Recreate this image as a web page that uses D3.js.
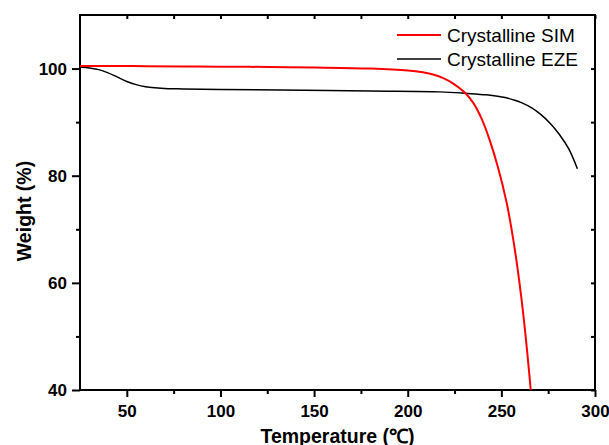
<!DOCTYPE html>
<html>
<head>
<meta charset="utf-8">
<script src="https://cdn.jsdelivr.net/npm/d3@7"></script>
<style>
  body { margin: 0; background: #fff; }
  text { font-family: "Liberation Sans", Arial, sans-serif; }
</style>
</head>
<body>
<div id="chart"></div>
<script>
// Crystalline SIM (red)
const tempSIM = [25, 40, 60, 80, 100, 126, 150, 180, 200, 208, 214, 219, 224.3, 230.6, 235, 239.5, 243.9, 248.4, 252.8, 255.3, 257.8, 260.5, 263, 265.7];
const weightSIM = [100.5, 100.5, 100.45, 100.4, 100.35, 100.3, 100.2, 100.0, 99.65, 99.3, 98.85, 98.2, 97.2, 95.5, 93.6, 90.6, 86.5, 81.3, 75.0, 70.3, 64.8, 57.7, 49.9, 40];

// Crystalline EZE (black)
const tempEZE = [25, 30, 35, 40, 45, 50, 55, 60, 65, 72, 80, 100, 132, 180, 217, 232, 242, 248, 252, 256, 261, 266, 271, 276, 281, 286, 290.6];
const weightEZE = [100.3, 100.1, 99.8, 99.2, 98.4, 97.6, 97.0, 96.6, 96.4, 96.25, 96.2, 96.1, 96.0, 95.8, 95.65, 95.35, 95.1, 94.85, 94.6, 94.2, 93.6, 92.7, 91.45, 89.8, 87.7, 85.0, 81.3];

const xMajor = [50, 100, 150, 200, 250, 300];
const xMinor = [75, 125, 175, 225, 275];
const yMajor = [40, 60, 80, 100];
const yMinor = [50, 70, 90];

const seriesNames = ['Crystalline SIM', 'Crystalline EZE'];
const seriesColors = ['#ff0000', '#000000'];

const width = 609;
const height = 445;
const margin = { top: 15, right: 14, bottom: 55, left: 80 };

const svg = d3.select('#chart')
  .append('svg')
  .attr('width', width)
  .attr('height', height);

const x = d3.scaleLinear()
  .domain([25, 300])
  .range([margin.left, width - margin.right]);

const y = d3.scaleLinear()
  .domain([40, 110])
  .range([height - margin.bottom, margin.top]);

// clip so the red curve stops at the frame
svg.append('clipPath')
  .attr('id', 'plot-clip')
  .append('rect')
  .attr('x', x(25))
  .attr('y', y(110))
  .attr('width', x(300) - x(25))
  .attr('height', y(40) - y(110));

// axes
function styleAxis(g, hideText) {
  g.select('.domain').remove();
  g.selectAll('.tick line').attr('stroke', '#000').attr('stroke-width', 2);
  g.selectAll('.tick text')
    .attr('font-size', 17)
    .attr('font-weight', 'bold')
    .attr('fill', '#000');
  if (hideText) g.selectAll('.tick text').remove();
}

svg.append('g')
  .attr('transform', `translate(0, ${y(40)})`)
  .call(d3.axisBottom(x).tickValues(xMajor).tickSize(7).tickPadding(8).tickSizeOuter(0))
  .call(g => styleAxis(g, false));

svg.append('g')
  .attr('transform', `translate(0, ${y(40)})`)
  .call(d3.axisBottom(x).tickValues(xMinor).tickSize(4).tickSizeOuter(0))
  .call(g => styleAxis(g, true));

svg.append('g')
  .attr('transform', `translate(${x(25)}, 0)`)
  .call(d3.axisLeft(y).tickValues(yMajor).tickSize(8).tickPadding(5).tickSizeOuter(0))
  .call(g => styleAxis(g, false));

svg.append('g')
  .attr('transform', `translate(${x(25)}, 0)`)
  .call(d3.axisLeft(y).tickValues(yMinor).tickSize(4).tickSizeOuter(0))
  .call(g => styleAxis(g, true));

// mirrored inward ticks on top and right
svg.append('g')
  .attr('transform', `translate(0, ${y(110)})`)
  .call(d3.axisTop(x).tickValues(xMajor.concat(xMinor)).tickSize(-4).tickSizeOuter(0))
  .call(g => styleAxis(g, true));

svg.append('g')
  .attr('transform', `translate(${x(300)}, 0)`)
  .call(d3.axisRight(y).tickValues(yMajor.concat(yMinor)).tickSize(-4).tickSizeOuter(0))
  .call(g => styleAxis(g, true));

// frame
svg.append('rect')
  .attr('x', x(25))
  .attr('y', y(110))
  .attr('width', x(300) - x(25))
  .attr('height', y(40) - y(110))
  .attr('fill', 'none')
  .attr('stroke', '#000')
  .attr('stroke-width', 2);

// curves
const line = d3.line()
  .x(d => x(d[0]))
  .y(d => y(d[1]))
  .curve(d3.curveCatmullRom.alpha(0.5));

const curves = svg.append('g').attr('clip-path', 'url(#plot-clip)');

curves.append('path')
  .attr('d', line(d3.zip(tempEZE, weightEZE)))
  .attr('fill', 'none')
  .attr('stroke', seriesColors[1])
  .attr('stroke-width', 1.5);

curves.append('path')
  .attr('d', line(d3.zip(tempSIM, weightSIM)))
  .attr('fill', 'none')
  .attr('stroke', seriesColors[0])
  .attr('stroke-width', 2);

// legend
const legend = svg.append('g')
  .attr('transform', 'translate(397, 35)');

const legendItem = legend.selectAll('g')
  .data(seriesNames)
  .enter()
  .append('g')
  .attr('transform', (d, i) => `translate(0, ${i * 24})`);

legendItem.append('line')
  .attr('x1', 0)
  .attr('x2', 44)
  .attr('stroke', (d, i) => seriesColors[i])
  .attr('stroke-width', (d, i) => i === 0 ? 2 : 1.5);

legendItem.append('text')
  .attr('x', 50)
  .attr('y', 6.8)
  .attr('font-size', 19)
  .attr('fill', '#000')
  .text(d => d);

// axis titles
svg.append('text')
  .attr('x', (x(25) + x(300)) / 2)
  .attr('y', 443)
  .attr('text-anchor', 'middle')
  .attr('font-size', 19.5)
  .attr('font-weight', 'bold')
  .text('Temperature (℃)');

svg.append('text')
  .attr('transform', 'translate(31, 211) rotate(-90)')
  .attr('text-anchor', 'middle')
  .attr('font-size', 19.5)
  .attr('font-weight', 'bold')
  .text('Weight (%)');
</script>
</body>
</html>
